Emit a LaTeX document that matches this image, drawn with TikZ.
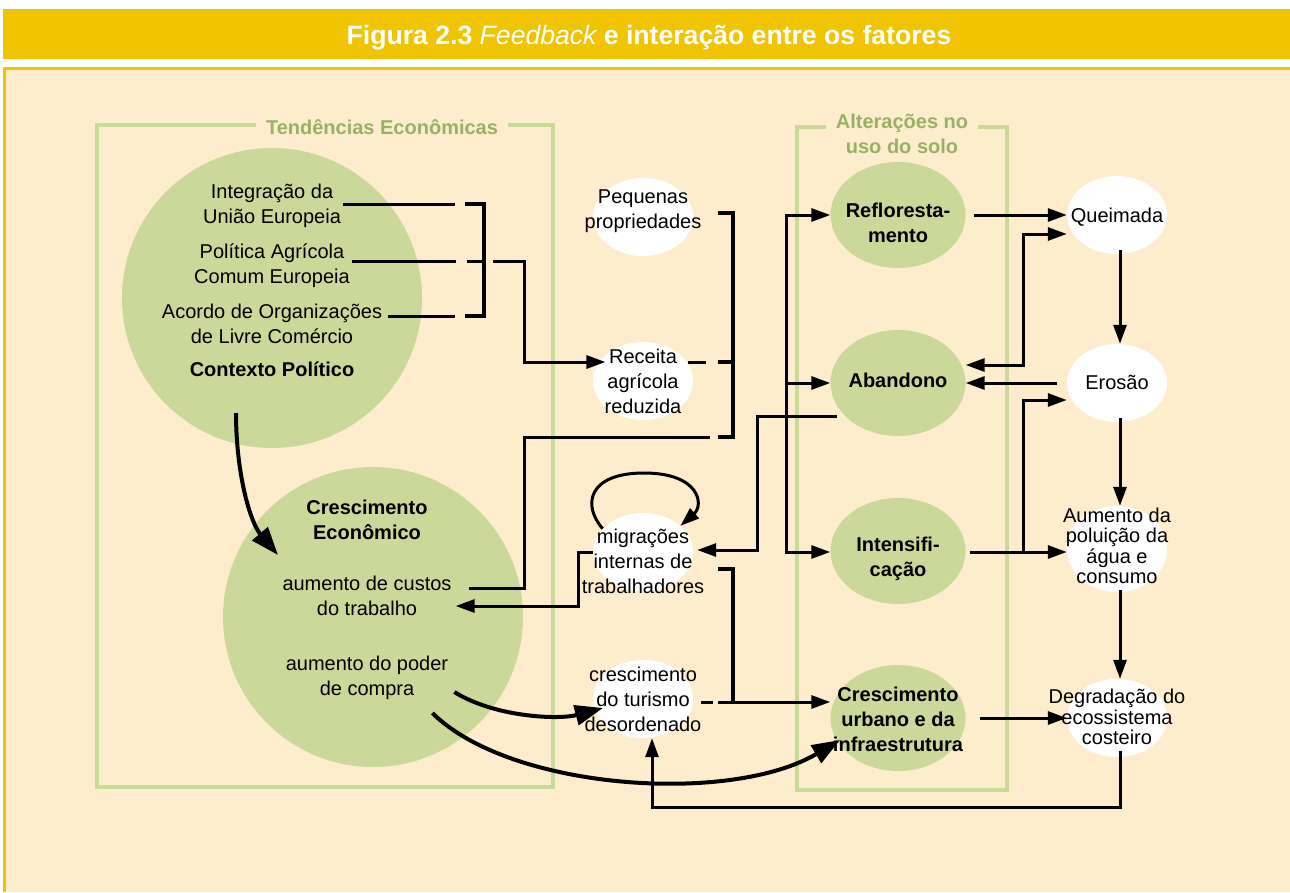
\documentclass[tikz,border=0pt]{standalone}
\usepackage{fontspec}
\setmainfont{Liberation Sans}
\usetikzlibrary{arrows.meta,shapes.geometric,calc}
\definecolor{titlegold}{RGB}{240,196,0}
\definecolor{panelbg}{RGB}{253,237,204}
\definecolor{leaf}{RGB}{204,216,154}
\definecolor{frameg}{RGB}{200,217,152}
\definecolor{labelg}{RGB}{154,176,104}
\begin{document}
\begin{tikzpicture}[x=1pt,y=-1pt,
  txt/.style={font=\fontsize{20}{25}\selectfont, inner sep=0pt, align=center},
  btxt/.style={txt, font=\fontsize{20}{25}\selectfont\bfseries},
  ttxt/.style={txt, font=\fontsize{20}{20.5}\selectfont},
  disc/.style={circle, fill=leaf, minimum size=300pt, inner sep=0pt},
  leafbub/.style={ellipse, fill=leaf, minimum width=135pt, minimum height=106pt, inner sep=0pt},
  whitebub/.style={ellipse, fill=white, minimum width=100pt, minimum height=78pt, inner sep=0pt},
  conn/.style={line width=3pt},
  brk/.style={line width=4.5pt},
  hd/.tip={Triangle[length=19pt,width=13pt]},
  bighd/.tip={Triangle[length=28pt,width=20pt]},
  arr/.style={conn, -hd},
  arrboth/.style={conn, hd-hd},
  bigarr/.style={line width=4pt, -bighd},
  frame/.style={draw=frameg, line width=4pt},
  grouplabel/.style={txt, font=\fontsize{20}{25}\selectfont\bfseries, text=labelg, fill=panelbg, inner xsep=10pt, inner ysep=3pt},
]
\useasboundingbox (0,0) rectangle (1290,892);
\fill[white] (0,0) rectangle (1290,892);

% heading bar
\fill[titlegold] (3,9) rectangle (1290,59);
\node[txt, font=\fontsize{26.6}{30}\selectfont\bfseries, text=white, anchor=base] (title) at (649,44)
  {Figura 2.3 {\mdseries\itshape Feedback} e interação entre os fatores};

% panel
\fill[panelbg] (3,67) rectangle (1290,892);
\draw[titlegold, line width=3pt] (4.5,892) -- (4.5,68.5) -- (1290,68.5);

% group frames
\draw[frame] (97,125) rectangle (553,787);
\node[grouplabel] (econlabel) at (382,127) {Tendências Econômicas};
\draw[frame] (797,127) rectangle (1007,790);
\node[grouplabel] (landlabel) at (902,134) {Alterações no\\uso do solo};

% bubbles
\node[disc] (ctx) at (272,298) {};
\node[disc] (eco) at (373,617) {};
\node[whitebub] (peq) at (643,217) {};
\node[whitebub] (rec) at (643,381) {};
\node[whitebub] (mig) at (643,552) {};
\node[whitebub] (tur) at (643,699) {};
\node[leafbub] (refl) at (898,215) {};
\node[leafbub] (aban) at (898,383) {};
\node[leafbub] (intens) at (898,551) {};
\node[leafbub] (urb) at (898,718) {};
\node[whitebub] (queim) at (1117,215) {};
\node[whitebub] (eros) at (1117,383) {};
\node[whitebub, minimum height=86pt] (aum) at (1117,549) {};
\node[whitebub] (deg) at (1117,718) {};

% texts
\node[txt] (integT) at (272,206) {Integração da\\União Europeia};
\node[txt] (politT) at (272,266) {Política Agrícola\\Comum Europeia};
\node[txt] (acordoT) at (272,324) {Acordo de Organizações\\de Livre Comércio};
\node[btxt] (ctxT) at (272,369) {Contexto Político};
\node[btxt] (ecoT) at (367,520) {Crescimento\\Econômico};
\node[txt] (custosT) at (367,596) {aumento de custos\\do trabalho};
\node[txt] (poderT) at (367,678) {aumento do poder\\de compra};
\node[txt] (peqT) at (643,211) {Pequenas\\propriedades};
\node[txt] (recT) at (643,381) {Receita\\agrícola\\reduzida};
\node[txt] (migT) at (643,561) {migrações\\internas de\\trabalhadores};
\node[txt] (turT) at (643,699) {crescimento\\do turismo\\desordenado};
\node[btxt] (reflT) at (898,223) {Refloresta-\\mento};
\node[btxt] (abanT) at (898,380) {Abandono};
\node[btxt] (intensT) at (898,559) {Intensifi-\\cação};
\node[btxt] (urbT) at (898,719) {Crescimento\\urbano e da\\infraestrutura};
\node[txt] (queimT) at (1117,217) {Queimada};
\node[txt] (erosT) at (1117,382) {Erosão};
\node[ttxt] (aumT) at (1117,546) {Aumento da\\poluição da\\água e\\consumo};
\node[ttxt] (degT) at (1117,717) {Degradação do\\ecossistema\\costeiro};

% political context into the first bracket
\coordinate (gI) at (455,204);
\coordinate (gP) at (456,261);
\coordinate (gA) at (455,316);
\draw[conn, shorten <=2pt] (integT.east |- gI) -- (gI);
\draw[conn, shorten <=2pt] (politT.east |- gP) -- (gP);
\draw[conn, shorten <=6pt] (acordoT.east |- gA) -- (gA);
\draw[brk] (465,204) -- (484,204) -- (484,316) -- (465,316);
\draw[conn] (467,261) -- (484,261);
\coordinate (pI) at (493,261);
\coordinate (pC) at (524,362);
\draw[arr, shorten >=-1pt] (pI) -| (pC) -- (pC -| recT.west);

% second bracket: small holdings and reduced income
\draw[conn] ($(recT.east |- pC)+(6,0)$) -- ($(recT.east |- pC)+(24,0)$);
\draw[brk] (718,213) -- (733,213) -- (733,437) -- (718,437);
\draw[brk] (718,362) -- (733,362);
\coordinate (bB) at (710,437);
\coordinate (vC) at (524,588);
\draw[conn, shorten >=17pt] (bB) -| (vC) -- (vC -| custosT.east);

% migration
\coordinate (mC) at (578,606);
\draw[arr, shorten >=4pt] (mig.west) -| (mC) -- (mC -| custosT.east);
\draw[arr] (mig.150) .. controls (582,505) and (588,473) .. (644,473)
  .. controls (700,473) and (704,505) .. (mig.35);
\coordinate (aM) at (757,550);
\draw[arr, shorten >=4pt] ($(aban.center)+(-61,33)$) -| (aM) -- (aM -| mig.east);

% distribution to land-use changes
\coordinate (dB) at (786,552);
\draw[arrboth] (refl.west) -| (dB) -- (dB -| intens.west);
\draw[arr] (dB |- aban.west) -- (aban.west);

% land-use effects
\draw[arr, shorten <=8pt] (refl.east) -- (queim.west);
\coordinate (qv) at (1023,300);
\draw[arrboth] ($(aban.east)+(0,-18)$) -| (qv) |- ($(queim.west)+(0,19)$);
\draw[arr, shorten <=10pt] (eros.west) -- (aban.east);
\draw[arr, shorten <=4pt] (intens.east |- dB) -- (aum.west |- dB);
\draw[arr] (qv |- dB) |- ($(eros.west)+(0,17)$);
\draw[arr] ($(queim.south)+(3,-4)$) -- ($(eros.north)+(3,0)$);
\draw[arr] ($(eros.south)+(3,-4)$) -- ($(aum.north)+(3,0)$);
\draw[arr] ($(aum.south)+(3,-2)$) -- ($(deg.north)+(3,0)$);
\draw[arr, shorten <=14pt] (urb.east) -- (deg.west);
\coordinate (bl) at (900,807);
\draw[arr] ($(deg.south)+(3,-6)$) |- (bl) -| ($(tur.south)+(9,0)$);

% third bracket: migration and tourism into urban growth
\draw[brk] (718,569) -- (733,569) -- (733,704);
\coordinate (tB) at (718,702);
\draw[arr] (tB) -- ($(urb.west)+(0,-16)$);
\draw[conn] ($(turT.east |- tB)+(-1,0)$) -- ($(turT.east |- tB)+(11,0)$);

% economic growth curves
\draw[bigarr] ($(ctx.center)+(-36,115)$) .. controls +(0,60) and +(-28,-33) .. ($(eco.center)+(-95,-62)$);
\draw[bigarr] ($(poderT.east)+(6,14)$) .. controls +(40,25) and +(-45,12) .. ($(tur.center)+(-40,9)$);
\draw[bigarr] ($(poderT.east)+(-16,35)$) .. controls (510,790) and (730,805) .. ($(urb.center)+(-58,22)$);
\end{tikzpicture}
\end{document}
